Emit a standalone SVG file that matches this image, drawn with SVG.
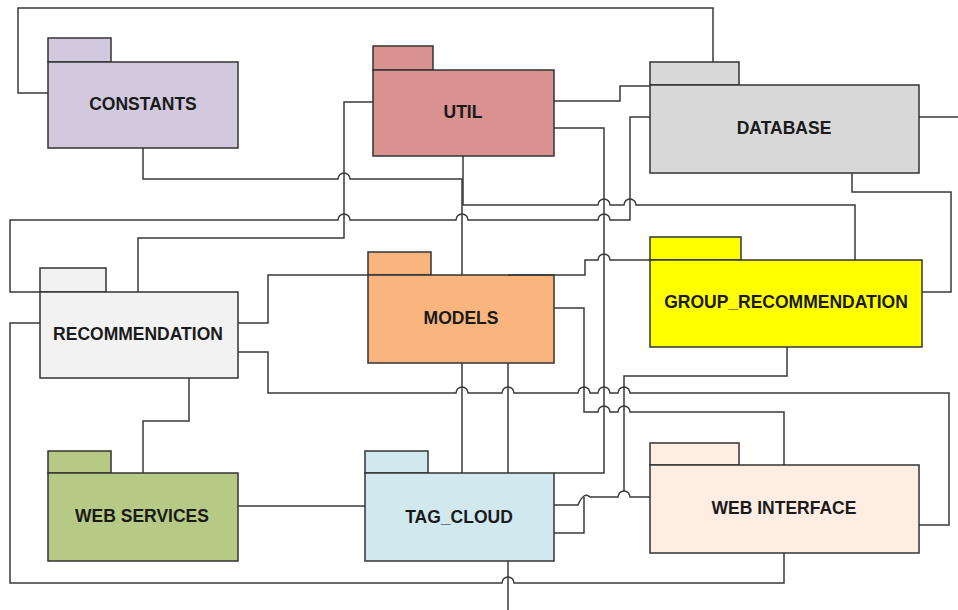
<svg xmlns="http://www.w3.org/2000/svg" width="958" height="610" viewBox="0 0 958 610">
<style>
.box{stroke:#333;stroke-width:1.5}
.lbl{font-family:"Liberation Sans",Arial,sans-serif;font-weight:bold;font-size:17.5px;fill:#1a1a1a;text-anchor:middle}
.c path{fill:none;stroke:#3a3a3a;stroke-width:1.5}
</style>
<rect width="958" height="610" fill="#fff"/>
<g id="nodes">
<g id="constants"><rect class="box" x="48" y="38" width="63" height="24" fill="#d3c9df"/><rect class="box" x="48" y="62" width="190" height="86" fill="#d3c9df"/><text class="lbl" x="143" y="110">CONSTANTS</text></g>
<g id="util"><rect class="box" x="373" y="46" width="60" height="24" fill="#d9928f"/><rect class="box" x="373" y="70" width="181" height="86" fill="#d9928f"/><text class="lbl" x="463" y="118">UTIL</text></g>
<g id="database"><rect class="box" x="650" y="62" width="89" height="23" fill="#d8d8d8"/><rect class="box" x="650" y="85" width="269" height="88" fill="#d8d8d8"/><text class="lbl" x="784" y="134">DATABASE</text></g>
<g id="recommendation"><rect class="box" x="40" y="268" width="66" height="24" fill="#f2f2f2"/><rect class="box" x="40" y="292" width="198" height="86" fill="#f2f2f2"/><text class="lbl" x="138" y="340">RECOMMENDATION</text></g>
<g id="models"><rect class="box" x="368" y="252" width="63" height="23" fill="#f9b57d"/><rect class="box" x="368" y="275" width="186" height="88" fill="#f9b57d"/><text class="lbl" x="461" y="324">MODELS</text></g>
<g id="group_recommendation"><rect class="box" x="650" y="237" width="91" height="23" fill="#ffff00"/><rect class="box" x="650" y="260" width="272" height="87" fill="#ffff00"/><text class="lbl" x="786" y="308">GROUP_RECOMMENDATION</text></g>
<g id="web_services"><rect class="box" x="48" y="451" width="63" height="22" fill="#b6ca85"/><rect class="box" x="48" y="473" width="190" height="88" fill="#b6ca85"/><text class="lbl" x="142" y="522">WEB SERVICES</text></g>
<g id="tag_cloud"><rect class="box" x="365" y="451" width="63" height="22" fill="#d2e8ef"/><rect class="box" x="365" y="473" width="189" height="88" fill="#d2e8ef"/><text class="lbl" x="459" y="523">TAG_CLOUD</text></g>
<g id="web_interface"><rect class="box" x="650" y="443" width="89" height="22" fill="#fdede2"/><rect class="box" x="650" y="465" width="269" height="88" fill="#fdede2"/><text class="lbl" x="784" y="514">WEB INTERFACE</text></g>
</g>
<g id="connectors" class="c">
<path d="M48,93 H18 V8 H713 V62"/>
<path d="M143,148 V179 H338 A6,6 0 0 1 350,179 H462 V275"/>
<path d="M463,156 V205 H598 A6,6 0 0 1 610,205 H624 A6,6 0 0 1 636,205 H855 V260"/>
<path d="M650,117 H630 V220 H610 A6,6 0 0 0 598,220 H468 A6,6 0 0 0 456,220 H350 A6,6 0 0 0 338,220 H10 V292 H40"/>
<path d="M373,102 H344 V238 H138 V292"/>
<path d="M554,101 H620 V86 H650"/>
<path d="M554,128 H604 V473 H554"/>
<path d="M919,117 H958"/>
<path d="M852,173 V192 H951 V292 H922"/>
<path d="M508,275 H585 V260 H598 A6,6 0 0 1 610,260 H650"/>
<path d="M238,323 H268 V275 H368"/>
<path d="M238,352 H268 V393 H456 A6,6 0 0 1 468,393 H502 A6,6 0 0 1 514,393 H578 A6,6 0 0 1 590,393 H598 A6,6 0 0 1 610,393 H618 A6,6 0 0 1 630,393 H949 V525 H919"/>
<path d="M554,308 H584 V412 H598 A6,6 0 0 1 610,412 H618 A6,6 0 0 1 630,412 H784 V465"/>
<path d="M787,347 V376 H624 V491"/>
<path d="M554,505 H578 Q584,491 590,497 H618 A6,6 0 0 1 630,497 H650"/>
<path d="M554,533 H584 V497"/>
<path d="M40,323 H10 V583 H502 A6,6 0 0 1 514,583 H784 V553"/>
<path d="M508,561 V610"/>
<path d="M462,363 V473"/>
<path d="M508,363 V473"/>
<path d="M189,378 V421 H143 V473"/>
<path d="M238,506 H365"/>
</g>
</svg>
